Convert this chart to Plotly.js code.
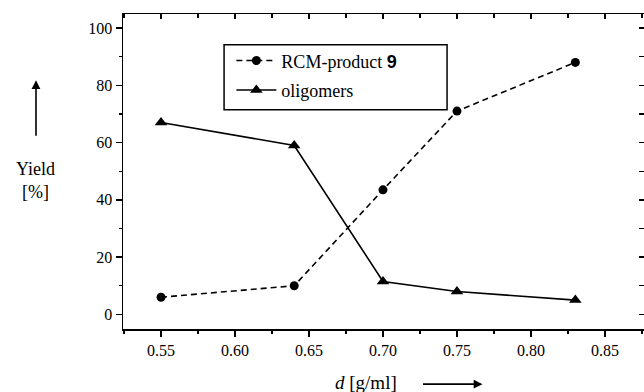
<!DOCTYPE html>
<html>
<head>
<meta charset="utf-8">
<script src="https://cdn.plot.ly/plotly-3.0.1.min.js"></script>
<style>html,body{margin:0;padding:0;background:#fff;}#chart{width:644px;height:392px;}</style>
</head>
<body>
<div id="chart"></div>
<script>
// Data
const density = [0.55, 0.64, 0.70, 0.75, 0.83];
const rcmProduct = [6, 10, 43.5, 71, 88];
const oligomers = [67, 59, 11.5, 8, 5];
const xTickVals = [0.55, 0.60, 0.65, 0.70, 0.75, 0.80, 0.85];
const xTickText = ["0.55", "0.60", "0.65", "0.70", "0.75", "0.80", "0.85"];
const yTickVals = [0, 20, 40, 60, 80, 100];
const yRightTicks = [0, 10, 20, 30, 40, 50, 60, 70, 80, 90, 100];

const serif = "'Liberation Serif', 'Times New Roman', Times, 'DejaVu Serif', serif";

const traces = [
  {
    x: density, y: rcmProduct, type: "scatter", mode: "lines+markers",
    name: "RCM-product <span style=\"font-family:'Liberation Sans';font-weight:bold\">9</span>",
    legendgroup: "a",
    line: {color: "#000", width: 1.6, dash: "6px,4px"},
    marker: {symbol: "circle", size: 9, color: "#000"}
  },
  {
    x: density, y: oligomers, type: "scatter", mode: "lines+markers",
    name: "oligomers", legendgroup: "b",
    line: {color: "#000", width: 1.6},
    marker: {symbol: "triangle-up", size: 11, color: "#000"}
  }
];

const xr = [0.5243, 0.8764];
const yr = [-5.1, 104.9];

const layout = {
  width: 644, height: 392,
  margin: {l: 123, r: 0, t: 14, b: 63},
  paper_bgcolor: "#fff", plot_bgcolor: "#fff",
  font: {family: serif, color: "#000", size: 15},
  showlegend: true,
  legend: {
    x: 0.208, y: 0.91, xanchor: "left", yanchor: "top",
    bgcolor: "rgba(0,0,0,0)", borderwidth: 0, itemwidth: 40,
    font: {family: serif, size: 18, color: "#000"},
    tracegroupgap: 3, traceorder: "grouped"
  },
  xaxis: {
    range: xr, showgrid: false, zeroline: false, mirror: false,
    showline: true, linecolor: "#000", linewidth: 1.5,
    ticks: "outside", ticklen: 6, tickwidth: 1.3, tickcolor: "#000",
    tickvals: xTickVals, ticktext: xTickText,
    minor: {dtick: 0.025, tick0: 0.525, ticks: "outside", ticklen: 3, tickwidth: 1.2, tickcolor: "#000", showgrid: false},
    tickfont: {family: serif, size: 16}
  },
  xaxis2: {
    overlaying: "x", matches: "x", side: "top", range: xr, mirror: false,
    showgrid: false, zeroline: false, showticklabels: false,
    showline: true, linecolor: "#000", linewidth: 1.5,
    ticks: "inside", ticklen: 5, tickwidth: 1.3, tickcolor: "#000",
    tickvals: xTickVals,
    minor: {dtick: 0.025, tick0: 0.525, ticks: "inside", ticklen: 4, tickwidth: 1.2, tickcolor: "#000", showgrid: false}
  },
  yaxis: {
    range: yr, showgrid: false, zeroline: false, mirror: false,
    showline: true, linecolor: "#000", linewidth: 1.5,
    ticks: "outside", ticklen: 6, tickwidth: 1.3, tickcolor: "#000",
    tickvals: yTickVals,
    minor: {dtick: 10, tick0: 0, ticks: "outside", ticklen: 3, tickwidth: 1.2, tickcolor: "#000", showgrid: false},
    tickfont: {family: serif, size: 16}
  },
  yaxis2: {
    overlaying: "y", matches: "y", side: "right", range: yr, mirror: false,
    showgrid: false, zeroline: false, showticklabels: false,
    showline: false, linecolor: "rgba(0,0,0,0)", linewidth: 0,
    ticks: "inside", ticklen: 5, tickwidth: 1.3, tickcolor: "#000",
    tickvals: yRightTicks
  },
  shapes: [
    {type: "rect", xref: "paper", yref: "paper",
     x0: 0.194, x1: 0.622, y0: 0.696, y1: 0.902,
     line: {color: "#000", width: 1.5}, fillcolor: "rgba(0,0,0,0)"}
  ],
  annotations: [
    {xref: "paper", yref: "paper", x: -0.168, y: 0.47, xanchor: "center", yanchor: "middle",
     text: "Yield<br>[%]", showarrow: false, font: {family: serif, size: 18}},
    {xref: "paper", yref: "paper", x: -0.167, y: 0.79, text: "", showarrow: true,
     ax: 0, ay: 57, arrowhead: 2, arrowsize: 1.1, arrowwidth: 1.6, arrowcolor: "#000"},
    {xref: "paper", yref: "paper", x: 0.466, y: -0.17, xanchor: "center", yanchor: "middle",
     text: "<i>d</i> [g/ml]", showarrow: false, font: {family: serif, size: 19}},
    {xref: "paper", yref: "paper", x: 0.69, y: -0.175, text: "", showarrow: true,
     ax: -61, ay: 0, arrowhead: 2, arrowsize: 1.1, arrowwidth: 1.6, arrowcolor: "#000"}
  ]
};

// invisible trace to activate the mirrored tick axes
traces.push({x: [density[0]], y: [rcmProduct[0]], xaxis: "x2", yaxis: "y2", mode: "markers",
  marker: {opacity: 0}, showlegend: false, hoverinfo: "skip"});

Plotly.newPlot("chart", traces, layout, {staticPlot: true, displayModeBar: false});
</script>
</body>
</html>
